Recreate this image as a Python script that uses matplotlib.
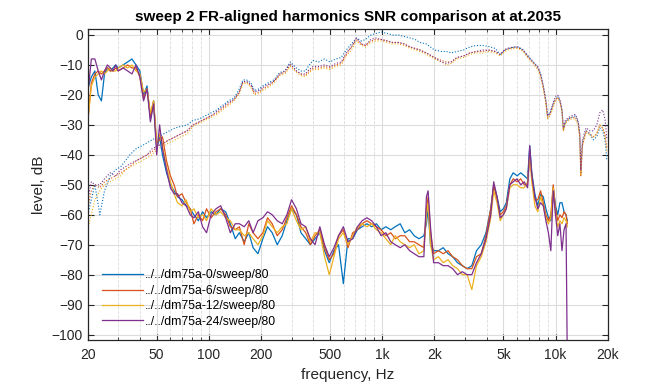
import numpy as np
import matplotlib.pyplot as plt
from matplotlib.ticker import FixedLocator, NullFormatter, LogLocator

plt.rcParams['font.family'] = ['Liberation Sans', 'DejaVu Sans']

# MATLAB default colour order
COLORS = ['#0072BD', '#D95319', '#EDB120', '#7E2F8E']
LABELS = ['../../dm75a-0/sweep/80', '../../dm75a-6/sweep/80',
          '../../dm75a-12/sweep/80', '../../dm75a-24/sweep/80']

# harmonics level (solid)
freq_h = [20, 21, 22, 23, 24, 25, 26, 27, 28, 29,
          30, 32, 34, 36, 38, 40, 42, 44, 46, 48,
          50, 52, 54, 57, 60, 63, 66, 70, 74, 78,
          82, 87, 92, 97, 103, 110, 117, 125, 133, 142,
          150, 160, 170, 180, 192, 205, 218, 232, 248, 265,
          282, 300, 320, 340, 362, 385, 410, 437, 465, 495,
          527, 560, 597, 635, 676, 720, 766, 816, 870, 926,
          986, 1050, 1120, 1190, 1270, 1350, 1440, 1530, 1630, 1740,
          1800, 1840, 1900, 1980, 2110, 2250, 2400, 2550, 2720, 2900,
          3090, 3290, 3500, 3730, 3970, 4230, 4400, 4600, 4800, 5000,
          5200, 5450, 5700, 6000, 6300, 6600, 6900, 7100, 7300, 7600,
          7900, 8200, 8500, 8800, 9100, 9400, 9700, 10000, 10300, 10600,
          10900, 11200, 11500, 11700]

harm_0 = [-18, -14, -12, -20, -22, -13, -11, -12, -11, -10,
          -11, -10, -9, -8, -10, -12, -20, -17, -28, -22,
          -38, -34, -40, -46, -50, -52, -54, -55, -57, -58,
          -60, -62, -59, -61, -59, -60, -58, -59, -63, -68,
          -66, -69, -66, -71, -73, -68, -64, -66, -70, -67,
          -62, -58, -60, -66, -68, -70, -68, -66, -72, -76,
          -72, -70, -83, -68, -68, -65, -64, -63, -64, -63,
          -65, -64, -65, -64, -63, -66, -65, -67, -68, -67,
          -63, -58, -70, -72, -72, -71, -73, -74, -76, -77,
          -78, -77, -72, -70, -66, -58, -50, -54, -59, -58,
          -56, -48, -46, -47, -46, -47, -48, -37, -46, -53,
          -57, -53, -54, -58, -61, -62, -51, -57, -60, -56,
          -56, -59, -60, -62]
harm_6 = [-29, -16, -13, -12, -13, -12, -11, -12, -12, -11,
          -12, -11, -10, -11, -11, -14, -21, -18, -27, -22,
          -36, -35, -34, -42, -47, -50, -54, -53, -56, -58,
          -63, -60, -62, -58, -61, -59, -58, -60, -64, -65,
          -64, -70, -63, -66, -68, -66, -61, -63, -67, -65,
          -61, -57, -60, -64, -66, -70, -67, -65, -71, -75,
          -73, -67, -65, -71, -66, -65, -63, -62, -63, -64,
          -65, -67, -66, -68, -67, -67, -69, -69, -70, -71,
          -58, -54, -66, -73, -72, -73, -72, -74, -75, -77,
          -78, -78, -74, -73, -67, -58, -50, -55, -60, -59,
          -57, -50, -48, -49, -48, -50, -50, -40, -47, -55,
          -55, -52, -56, -60, -62, -60, -50, -58, -62, -60,
          -61, -59, -60, -63]
harm_12 = [-29, -17, -14, -13, -12, -13, -12, -11, -12, -12,
           -11, -10, -11, -10, -12, -13, -19, -18, -26, -22,
           -37, -33, -37, -44, -49, -53, -56, -57, -55, -59,
           -58, -61, -60, -62, -58, -60, -59, -61, -62, -65,
           -65, -67, -66, -68, -70, -67, -62, -64, -66, -64,
           -63, -58, -62, -65, -64, -69, -66, -66, -74, -80,
           -74, -68, -66, -70, -67, -64, -63, -64, -63, -65,
           -66, -68, -70, -67, -69, -70, -71, -70, -73, -72,
           -60, -56, -70, -75, -74, -76, -75, -77, -78, -80,
           -80, -85, -77, -74, -69, -61, -52, -56, -62, -60,
           -58, -51, -50, -50, -51, -51, -49, -41, -49, -57,
           -59, -54, -57, -61, -63, -61, -51, -60, -64, -62,
           -63, -61, -62, -64]
harm_24 = [-20, -8, -8, -12, -15, -12, -10, -11, -12, -10,
           -12, -11, -12, -13, -10, -14, -22, -18, -29, -23,
           -40, -30, -38, -45, -51, -53, -53, -56, -57, -60,
           -61, -59, -64, -66, -60, -58, -57, -61, -66, -63,
           -63, -64, -62, -66, -62, -61, -59, -60, -62, -63,
           -60, -55, -58, -63, -64, -68, -70, -64, -70, -74,
           -71, -67, -64, -69, -68, -64, -62, -61, -62, -64,
           -67, -66, -69, -70, -71, -70, -72, -73, -74, -74,
           -54, -52, -64, -76, -76, -77, -77, -78, -80, -79,
           -80, -80, -76, -73, -68, -60, -49, -54, -61, -60,
           -58, -50, -49, -48, -50, -49, -51, -37, -47, -54,
           -58, -56, -57, -62, -66, -72, -52, -60, -67, -63,
           -72, -65, -63, -110]

# FR-aligned response (dotted)
freq_fr = [20, 21, 22, 23.5, 25, 27, 29, 31, 33, 35,
           38, 41, 44, 47, 51, 55, 59, 64, 69, 75,
           81, 88, 95, 103, 111, 120, 130, 140, 150, 157,
           165, 175, 183, 195, 205, 220, 237, 257, 275, 295,
           320, 340, 360, 380, 400, 430, 465, 500, 540, 580,
           620, 665, 710, 760, 800, 860, 920, 990, 1070, 1150,
           1240, 1340, 1450, 1550, 1650, 1800, 2000, 2200, 2350, 2500,
           2700, 2950, 3200, 3500, 3800, 4100, 4500, 4800, 5100, 5400,
           5800, 6100, 6500, 6900, 7400, 7900, 8200, 8500, 8800, 9000,
           9300, 9700, 10000, 10300, 10600, 10900, 11100, 11400, 11900, 12400,
           13000, 13500, 13800, 14000, 14300, 15000, 15800, 16500, 17300, 18000,
           18700, 19300, 19800]

fr_0 = [-60, -55, -50, -60, -52, -47, -45, -44, -42, -40,
        -38, -37, -36, -35, -34, -33, -32, -31, -30.5, -30,
        -28.5, -28, -27, -26, -25, -23.5, -22, -21, -18, -15,
        -15, -16, -18.5, -18, -17, -16, -15, -12.5, -12, -9,
        -11, -12, -12, -10, -8.5, -9, -8, -9, -8, -7.5,
        -5, -3, -1, -2, -1.5, 0, 0.5, 1, 0.5, 0,
        0, -0.5, -1, -1.5, -2.5, -3, -5, -5.5, -5.5, -6,
        -5.5, -5, -4, -3.5, -3.5, -3.8, -4.5, -6.5, -5, -4.5,
        -4, -4, -5, -7, -9, -11, -13, -17, -22, -27,
        -26, -23, -21.5, -20.5, -22, -25, -31.5, -29, -28, -27.5,
        -27, -29, -33, -46, -36, -32, -33, -35, -34, -31,
        -32, -35, -42]
fr_6 = [-58, -52, -50, -51, -49, -48, -47, -46, -45, -44,
        -42, -41, -40, -39, -37, -36, -35, -34, -33, -32,
        -30, -29, -28, -27, -26, -24.5, -23, -21.5, -19, -16,
        -15.5, -17, -19.5, -19, -18, -17, -15.5, -13, -12.5, -10,
        -12, -13, -13.5, -12, -11, -11, -10.5, -11, -10, -9.5,
        -6.5, -4, -1.5, -3, -3.5, -2, -1.5, -1.5, -2, -2.5,
        -2.5, -3, -4, -4.5, -5, -6, -7.5, -8.5, -9, -9,
        -7.5, -7, -6, -5.5, -5.5, -5, -5.5, -6.8, -5, -4.5,
        -4.2, -4.3, -5.2, -7.2, -9.2, -11, -13.5, -17.5, -22.5, -27.5,
        -26.5, -23.5, -21.5, -21, -22, -25.5, -32, -29, -28, -27.5,
        -27.5, -29.5, -34, -47, -37, -32, -33, -34, -33, -30,
        -31, -33, -38]
fr_12 = [-65, -60, -55, -52, -50, -49, -48, -47, -45, -44,
         -43, -42, -41, -40, -38, -37, -36, -35, -34, -33,
         -30.5, -29.5, -28.5, -27.5, -26.5, -25, -23.5, -22, -19.5, -16.5,
         -16, -17.5, -20, -19.5, -18.5, -17.5, -16, -13.5, -13, -10.5,
         -12.5, -13.5, -14, -12.5, -11.5, -11.5, -11, -11.5, -10.5, -10,
         -7, -5, -2, -3.5, -4, -2.5, -2, -2, -2.5, -3,
         -3, -3.5, -4.5, -5, -5.5, -6.5, -8, -9, -10, -9.5,
         -8, -7.5, -6.5, -6, -6, -5.5, -6, -7, -5.5, -4.8,
         -4.5, -4.5, -5.5, -7.5, -9.5, -11.5, -14, -18, -23, -28,
         -27, -24, -22, -21, -22.5, -25.5, -32, -29.5, -28.5, -28,
         -28, -30, -34, -47, -37, -32.5, -33.5, -34, -33, -30,
         -31, -34, -39]
fr_24 = [-55, -49, -50, -50, -48, -46, -47, -45, -44, -43,
         -42, -41, -40, -38, -37, -36, -35, -34, -33, -32,
         -30, -29, -28, -27, -25.5, -24, -22.5, -21.5, -19, -15.5,
         -15.5, -16.5, -19, -18.5, -17.5, -16.5, -15.5, -13, -12, -9.5,
         -12, -13, -13, -11.5, -10.5, -10.5, -10, -10.5, -9.5, -9,
         -6, -4, -1, -3, -3.5, -1.5, -1, -1.5, -2, -2.5,
         -2.5, -3, -4, -4.5, -5, -6, -7.5, -9, -9.5, -9,
         -7.5, -7, -6, -5.5, -5, -5, -5.5, -6.5, -4.8, -4.3,
         -4, -4, -5, -6.8, -8.8, -10.5, -13, -17, -22, -27,
         -26, -22.5, -20.5, -20, -21.5, -25, -31, -28.5, -27.5, -27,
         -26.5, -28.5, -33, -45, -35, -31, -32, -32, -30, -26,
         -25, -28, -35]

harm = [harm_0, harm_6, harm_12, harm_24]
fr = [fr_0, fr_6, fr_12, fr_24]

fig = plt.figure(figsize=(6.72, 3.84), dpi=100)
ax = fig.add_axes([0.1305, 0.1146, 0.7738, 0.8091])

for vals, c in zip(fr, COLORS):
    ax.plot(freq_fr, vals, linestyle=(0, (1, 1.6)), color=c, linewidth=0.8)
for vals, c, lab in zip(harm, COLORS, LABELS):
    ax.plot(freq_h, vals, '-', color=c, linewidth=0.9, label=lab)

ax.set_xscale('log')
ax.set_xlim(20, 20000)
ax.set_ylim(-101.8, 1.9)

xt = [20, 50, 100, 200, 500, 1000, 2000, 5000, 10000, 20000]
ax.xaxis.set_major_locator(FixedLocator(xt))
ax.set_xticklabels(['20', '50', '100', '200', '500', '1k', '2k', '5k', '10k', '20k'])
ax.xaxis.set_minor_locator(LogLocator(base=10, subs=(3, 4, 6, 7, 8, 9)))
ax.xaxis.set_minor_formatter(NullFormatter())
ax.set_yticks(np.arange(-100, 1, 10))

ax.tick_params(which='both', direction='in', top=True, right=True, labelsize=10, colors='#262626')
ax.tick_params(which='major', length=4, width=0.8)
ax.tick_params(which='minor', length=2, width=0.6)
ax.tick_params(axis='x', which='major', pad=6)

ax.grid(True, which='major', color='#dcdcdc', linewidth=0.8)
ax.grid(True, which='minor', axis='x', color='#dcdcdc', linestyle='--', linewidth=0.6)
ax.set_axisbelow(True)
for s in ax.spines.values():
    s.set_color('#262626')
    s.set_linewidth(0.9)

ax.set_xlabel('frequency, Hz', fontsize=11, color='#262626')
ax.set_ylabel('level, dB', fontsize=11, color='#262626')
ax.set_title('sweep 2 FR-aligned harmonics SNR comparison at at.2035',
             fontsize=11, fontweight='bold', pad=6)

ax.legend(loc='lower left', bbox_to_anchor=(0.012, 0.012), frameon=False, fontsize=8.8,
          handlelength=3.3, labelspacing=0.28, handletextpad=0.2, borderaxespad=0.3)

fig.savefig('out.png', dpi=100)
